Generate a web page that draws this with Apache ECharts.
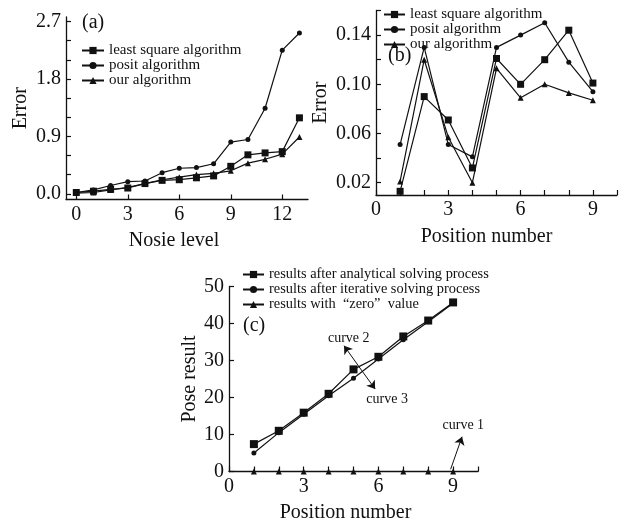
<!doctype html>
<html lang="en">
<head>
  <meta charset="UTF-8">
  <title>Error and pose result</title>
  <script src="https://cdn.jsdelivr.net/npm/echarts@6/dist/echarts.min.js"></script>
</head>
<body style="margin:0;background:#fff">
<div id="main" style="width: 622px;height: 520px"></div>
<script>
    // (a) error against noise level
    var noiseLevel = [0, 1, 2, 3, 4, 5, 6, 7, 8, 9, 10, 11, 12, 13];
    var lsqA = [0.02, 0.04, 0.07, 0.09, 0.16, 0.21, 0.22, 0.25, 0.28, 0.43, 0.61, 0.64, 0.66, 1.19];
    var positA = [0.02, 0.06, 0.13, 0.19, 0.20, 0.33, 0.40, 0.41, 0.47, 0.81, 0.85, 1.34, 2.25, 2.52];
    var oursA = [0.01, 0.02, 0.06, 0.10, 0.16, 0.22, 0.26, 0.30, 0.32, 0.36, 0.48, 0.54, 0.62, 0.89];

    // (b) error against position number
    var positionB = [1, 2, 3, 4, 5, 6, 7, 8, 9];
    var lsqB = [0.013, 0.090, 0.071, 0.032, 0.121, 0.100, 0.120, 0.144, 0.101];
    var positB = [0.051, 0.130, 0.051, 0.041, 0.130, 0.140, 0.150, 0.118, 0.094];
    var oursB = [0.021, 0.120, 0.057, 0.020, 0.113, 0.089, 0.100, 0.093, 0.087];

    // (c) pose result against position number
    var positionC = [1, 2, 3, 4, 5, 6, 7, 8, 9];
    var analyticC = [7.4, 11.0, 15.9, 21.0, 27.6, 31.0, 36.5, 40.8, 45.7];
    var iterativeC = [5.0, 10.5, 15.5, 20.5, 25.2, 30.4, 35.6, 40.5, 45.5];
    var zeroC = [0, 0, 0, 0, 0, 0, 0, 0, 0];

    // tick labels
    var xLabelsA = [0, 3, 6, 9, 12];
    var yTicksA = [0, 0.3, 0.6, 0.9, 1.2, 1.5, 1.8, 2.1, 2.4, 2.7];
    var yLabelsA = [0, 0.9, 1.8, 2.7];
    var xTicksBC = [0, 1, 2, 3, 4, 5, 6, 7, 8, 9, 10];
    var xLabelsBC = [0, 3, 6, 9];
    var yTicksB = [0.02, 0.04, 0.06, 0.08, 0.10, 0.12, 0.14, 0.16];
    var yLabelsB = [0.02, 0.06, 0.10, 0.14];
    var yTicksC = [0, 10, 20, 30, 40, 50];

    var names = ['least square algorithm', 'posit algorithm', 'our algorithm'];
    var namesC = ['results after analytical solving process', 'results after iterative solving process', 'results with  \u201czero\u201d  value'];

    // arrows and notes of panel (c), in data units
    var arrowsC = [
        [[5.34, 27.2], [4.62, 34.0]],
        [[5.34, 27.2], [5.87, 22.3]],
        [[8.90, 0.6], [9.36, 9.4]]
    ];
    var notesC = [
        {text: 'curve 2', at: [4.81, 36.1]},
        {text: 'curve 3', at: [6.35, 19.4]},
        {text: 'curve 1', at: [9.41, 12.4]}
    ];

    var serif = 'Liberation Serif';
    var ink = '#111';

    function pairs(xs, ys) {
        return xs.map(function (x, i) { return [x, ys[i]]; });
    }

    function line(name, xs, ys, symbol, size, idx) {
        return {
            name: name,
            type: 'line',
            xAxisIndex: idx,
            yAxisIndex: idx,
            data: pairs(xs, ys),
            symbol: symbol,
            symbolSize: size,
            clip: false,
            lineStyle: {color: ink, width: 1.2},
            itemStyle: {color: ink}
        };
    }

    function axis(idx, min, max, ticks, labels, name, gap, fmt, pad) {
        return {
            type: 'value',
            gridIndex: idx,
            min: min,
            max: max,
            name: name,
            nameLocation: 'middle',
            nameGap: gap,
            nameTextStyle: {fontFamily: serif, fontSize: 20, color: ink, padding: pad || 0},
            axisLine: {show: true, onZero: false, lineStyle: {color: ink, width: 1.3}},
            axisTick: {show: true, inside: true, length: 5, customValues: ticks, lineStyle: {color: ink, width: 1.2}},
            axisLabel: {customValues: labels, fontFamily: serif, fontSize: 20, color: ink, margin: 5, formatter: fmt},
            splitLine: {show: false}
        };
    }

    function legend(data, left, top, lh, iw, fs) {
        return {
            data: data,
            orient: 'vertical',
            left: left,
            top: top,
            padding: 0,
            itemGap: 0,
            itemWidth: iw,
            itemHeight: 9,
            selectedMode: false,
            textStyle: {fontFamily: serif, fontSize: fs, color: ink, lineHeight: lh}
        };
    }

    function tag(text, left, top) {
        return {
            text: text, left: left, top: top, padding: 0,
            textStyle: {fontFamily: serif, fontSize: 20, fontWeight: 'normal', color: ink}
        };
    }

    var myChart = echarts.init(document.getElementById('main'));

    var seriesC0 = line(namesC[0], positionC, analyticC, 'rect', 8, 2);
    seriesC0.markLine = {
        silent: true,
        symbol: ['none', 'arrow'],
        symbolSize: 8,
        lineStyle: {color: ink, width: 1, type: 'solid'},
        label: {show: false},
        data: arrowsC.map(function (a) { return [{coord: a[0]}, {coord: a[1]}]; })
    };
    seriesC0.markPoint = {
        silent: true,
        symbol: 'circle',
        symbolSize: 0,
        label: {show: true, position: 'inside', fontFamily: serif, fontSize: 14, color: ink,
            formatter: function (p) { return p.name; }},
        data: notesC.map(function (n) { return {name: n.text, coord: n.at}; })
    };

    myChart.setOption({
        animation: false,
        backgroundColor: '#fff',
        title: [tag('(a)', 82, 13), tag('(b)', 388, 46), tag('(c)', 243, 316)],
        legend: [
            legend(names, 81, 43, 15, 22, 15),
            legend(names, 383, 7, 13, 21, 15),
            legend(namesC, 242, 267, 15, 21, 14.4)
        ],
        grid: [
            {left: 66, top: 17, width: 242, height: 182.5, containLabel: false, outerBoundsMode: 'none'},
            {left: 376, top: 10.5, width: 241, height: 184.5, containLabel: false, outerBoundsMode: 'none'},
            {left: 229, top: 286.5, width: 249, height: 185, containLabel: false, outerBoundsMode: 'none'}
        ],
        xAxis: [
            axis(0, -0.6, 13.5, xLabelsA, xLabelsA, 'Nosie level', 31, null, [0, 26, 0, 0]),
            axis(1, 0, 10, xTicksBC, xLabelsBC, 'Position number', 32, null, [0, 20, 0, 0]),
            axis(2, 0, 10, xTicksBC, xLabelsBC, 'Position number', 31, null, [0, 16, 0, 0])
        ],
        yAxis: [
            axis(0, -0.09, 2.77, yTicksA, yLabelsA, 'Error', 35, function (v) { return v.toFixed(1); }),
            axis(1, 0.01, 0.16, yTicksB, yLabelsB, 'Error', 45, function (v) { return v.toFixed(2); }),
            axis(2, 0, 50, yTicksC, yTicksC, 'Pose result', 29, function (v) { return String(Math.round(v)); })
        ],
        series: [
            line(names[0], noiseLevel, lsqA, 'rect', 7, 0),
            line(names[1], noiseLevel, positA, 'circle', 5, 0),
            line(names[2], noiseLevel, oursA, 'triangle', 6, 0),
            line(names[0], positionB, lsqB, 'rect', 7, 1),
            line(names[1], positionB, positB, 'circle', 5, 1),
            line(names[2], positionB, oursB, 'triangle', 6, 1),
            seriesC0,
            line(namesC[1], positionC, iterativeC, 'circle', 5, 2),
            line(namesC[2], positionC, zeroC, 'triangle', 6, 2)
        ]
    });
</script>
</body>
</html>
